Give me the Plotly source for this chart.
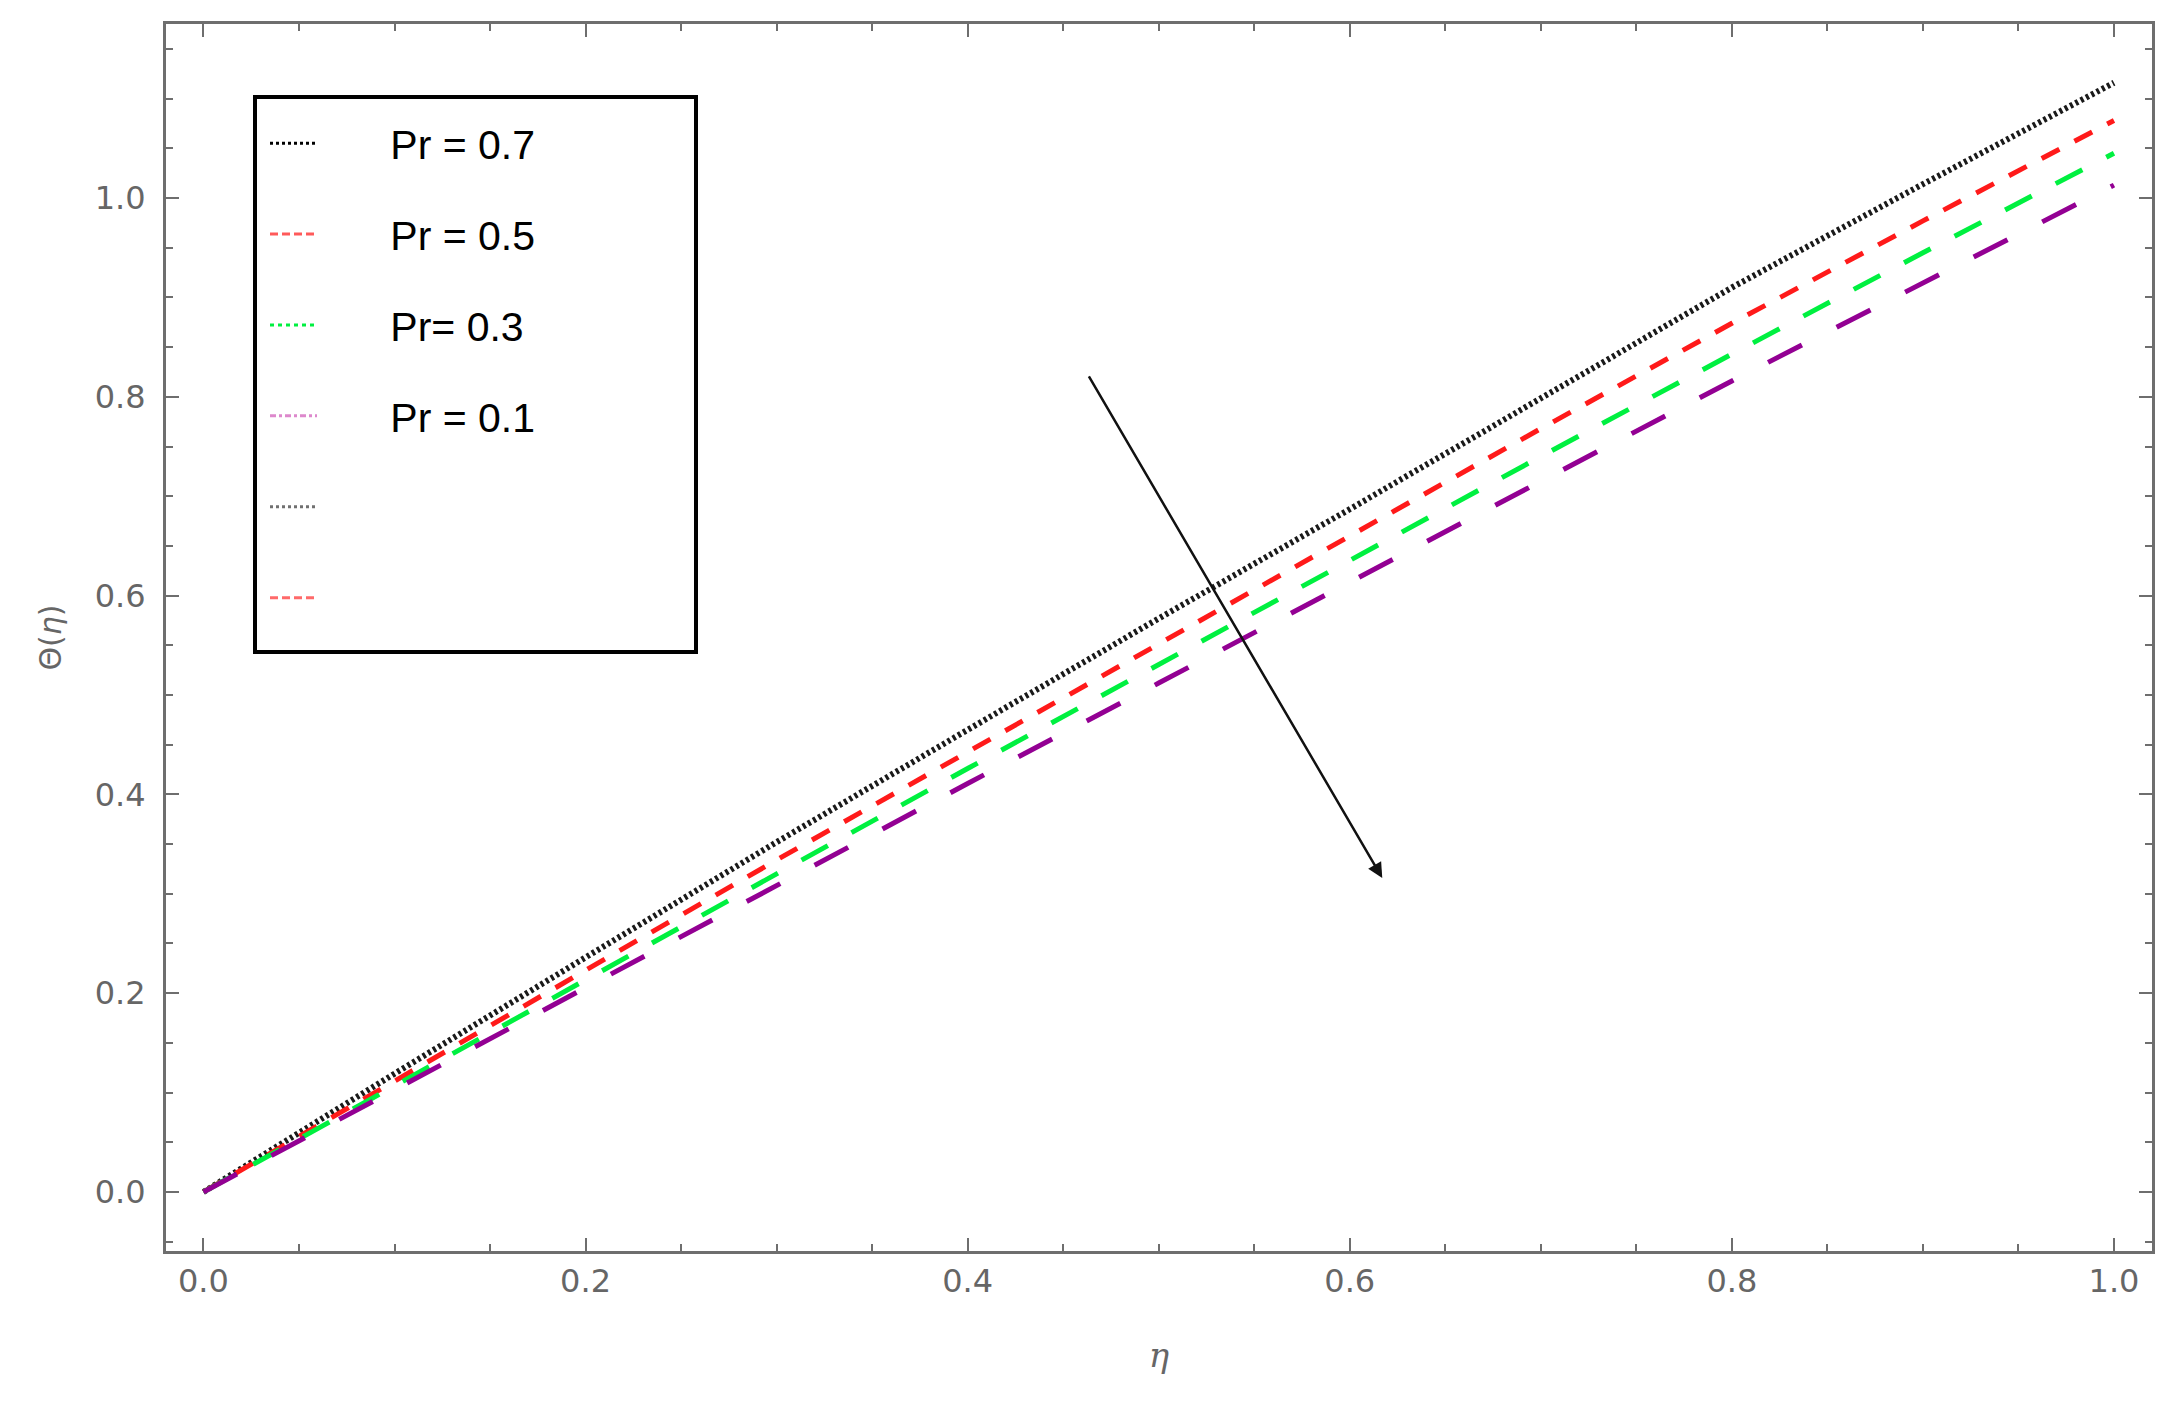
import plotly.graph_objects as go

# ---- data ----
eta = [0.0, 0.1, 0.2, 0.3, 0.4, 0.5, 0.6, 0.7, 0.8, 0.9, 1.0]
theta_pr07 = [0.0, 0.119, 0.236, 0.352, 0.465, 0.577, 0.687, 0.798, 0.910, 1.014, 1.116]
theta_pr05 = [0.0, 0.112, 0.223, 0.334, 0.443, 0.552, 0.660, 0.768, 0.874, 0.977, 1.078]
theta_pr03 = [0.0, 0.107, 0.214, 0.320, 0.426, 0.531, 0.636, 0.740, 0.843, 0.945, 1.045]
theta_pr01 = [0.0, 0.103, 0.206, 0.309, 0.411, 0.512, 0.614, 0.715, 0.816, 0.915, 1.013]

legend_labels = ["Pr = 0.7", "Pr = 0.5", "Pr= 0.3", "Pr = 0.1", "", ""]
x_ticks = [0.0, 0.2, 0.4, 0.6, 0.8, 1.0]
y_ticks = [0.0, 0.2, 0.4, 0.6, 0.8, 1.0]

# arrow (tail -> head) in data units
arrow_tail = (0.463, 0.822)
arrow_head = (0.617, 0.316)

fig = go.Figure()

curves = [
    (theta_pr07, "#1a1a1a", "3px,3px", 6),
    (theta_pr05, "#ff1a1a", "20px,17px", 5),
    (theta_pr03, "#00f040", "30px,27px", 5),
    (theta_pr01, "#930093", "38px,39px", 5),
]
for ys, col, dash, w in curves:
    fig.add_trace(go.Scatter(x=eta, y=ys, mode="lines",
                             line=dict(color=col, width=w, dash=dash),
                             showlegend=False, hoverinfo="skip"))

legend_styles = [
    ("#000000", "3px,3px"),
    ("#ff5a5a", "8px,4px"),
    ("#00f040", "4px,4px"),
    ("#dd88cc", "6px,3px,3px,3px"),
    ("#707070", "3px,3px"),
    ("#ff6a6a", "8px,4px"),
]
pad = "\u00a0" * 6
for i, (lab, (col, dash)) in enumerate(zip(legend_labels, legend_styles)):
    fig.add_trace(go.Scatter(x=[None], y=[None], mode="lines",
                             name=(pad + lab) if lab else "",
                             legendgroup="g%d" % i,
                             line=dict(color=col, width=3, dash=dash)))

# legend frame
fig.add_shape(type="rect", xref="paper", yref="paper",
              x0=(255 - 166) / 1986, x1=(696 - 166) / 1986,
              y0=(1251 - 652) / 1227, y1=(1251 - 97) / 1227,
              line=dict(color="black", width=4), fillcolor="rgba(0,0,0,0)")

fig.add_annotation(x=arrow_head[0], y=arrow_head[1], ax=arrow_tail[0], ay=arrow_tail[1],
                   xref="x", yref="y", axref="x", ayref="y", showarrow=True,
                   arrowhead=2, arrowsize=1.2, arrowwidth=2.5, arrowcolor="#111111", text="")

axis_common = dict(
    showline=True, linecolor="#6e6e6e", linewidth=3, mirror="allticks",
    ticks="inside", ticklen=13, tickwidth=2, tickcolor="#6e6e6e",
    showgrid=False, zeroline=False,
    tickfont=dict(family="DejaVu Sans", size=32, color="#666666"),
    tickformat=".1f",
    minor=dict(ticks="inside", ticklen=7, tickwidth=2, tickcolor="#6e6e6e", dtick=0.05, showgrid=False),
)

fig.update_xaxes(range=[-0.0196, 1.0199], tickvals=x_ticks, ticklabelstandoff=0,
                 title=dict(text="<i>η</i>", font=dict(family="DejaVu Serif", size=34, color="#666666"), standoff=44),
                 **axis_common)
fig.update_yaxes(range=[-0.0594, 1.1751], tickvals=y_ticks, ticklabelstandoff=11,
                 title=dict(text="Θ(<i>η</i>)", font=dict(family="DejaVu Sans", size=30, color="#666666"), standoff=25),
                 **axis_common)

# page body has an 8px margin: figure sized to fit the window
fig.update_layout(
    width=2168, height=1388,
    margin=dict(l=158, r=24, t=16, b=145),
    paper_bgcolor="white", plot_bgcolor="white",
    legend=dict(x=(265 - 166) / 1986, y=(1251 - 110) / 1227, xanchor="left", yanchor="top",
                bgcolor="rgba(0,0,0,0)", borderwidth=0,
                font=dict(family="Liberation Sans", size=41, color="black"),
                traceorder="grouped", tracegroupgap=34.6, itemwidth=47),
)

fig.write_html("out.html")
